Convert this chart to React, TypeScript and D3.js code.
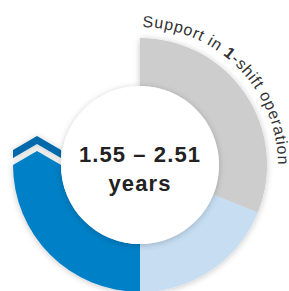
import React from "react";
import * as d3 from "d3";

// ring segments, clockwise from 12 o'clock (read as degrees of the ring)
const segments = ["support", "range", "base"];
const spans = [112, 68, 90];
const colors = ["#cdcdcd", "#c6ddf2", "#0480c6"];
const centerLines = ["1.55 – 2.51", "years"];
const arcLabel = ["Support in ", "1", "-shift operation"];

const W = 289;
const H = 291;

const App = () => {
  const cx = 140;
  const cy = 165;
  const outer = 127;
  const inner = 79;
  const ring = outer - inner;

  // the whole ring covers 270 degrees, from top clockwise to the left
  const angle = d3
    .scaleLinear()
    .domain([0, d3.sum(spans)])
    .range([0, (3 * Math.PI) / 2]);

  const pie = d3
    .pie<number>()
    .sort(null)
    .value((d) => d)
    .startAngle(angle(0))
    .endAngle(angle(d3.sum(spans)));

  const arc = d3.arc<d3.PieArcDatum<number>>().innerRadius(inner).outerRadius(outer);
  const slices = pie(spans);

  // chevron on the end of the blue arc (pointing up)
  const rise = 14;
  const gap = 7;
  const thick = 8;
  const x0 = cx - outer;
  const x1 = cx - inner;
  const xm = (x0 + x1) / 2;
  const cap = [
    [x0, cy],
    [xm, cy - rise],
    [x1, cy],
  ];
  const chevron = [
    [x0, cy - gap],
    [xm, cy - gap - rise],
    [x1, cy - gap],
    [x1, cy - gap - thick],
    [xm, cy - gap - thick - rise],
    [x0, cy - gap - thick],
  ];
  const line = d3.line();

  // path for curved label
  const r = 138;
  const a0 = (1 * Math.PI) / 180;
  const a1 = (100 * Math.PI) / 180;
  const p = d3.path();
  p.moveTo(cx + r * Math.sin(a0), cy - r * Math.cos(a0));
  p.arc(cx, cy, r, a0 - Math.PI / 2, a1 - Math.PI / 2);

  return (
    <svg
      width={W}
      height={H}
      style={{ position: "absolute", left: 0, top: 0, background: "#fff" }}
      fontFamily="'Liberation Sans', Arial, sans-serif"
    >
      <defs>
        <filter id="sh" x="-20%" y="-20%" width="140%" height="140%">
          <feDropShadow dx="0" dy="1" stdDeviation="3" floodColor="#000" floodOpacity="0.22" />
        </filter>
        <path id="lbl" d={p.toString()} />
      </defs>
      <g filter="url(#sh)">
        <g transform={`translate(${cx},${cy})`}>
          {slices.map((s, i) => (
            <path key={segments[i]} d={arc(s) || ""} fill={colors[i]} />
          ))}
        </g>
        <path d={line(cap as [number, number][]) + "Z"} fill={colors[2]} />
        <path d={line(chevron as [number, number][]) + "Z"} fill="#0069ab" />
      </g>
      <circle cx={cx} cy={cy} r={inner} fill="#fff" filter="url(#sh)" />
      <text
        textAnchor="middle"
        fontWeight="bold"
        fontSize={22}
        fill="#222"
        letterSpacing={1.1}
      >
        <tspan x={cx} y={162}>
          {centerLines[0]}
        </tspan>
        <tspan x={cx} y={191}>
          {centerLines[1]}
        </tspan>
      </text>
      <text fontSize={16} fill="#333" letterSpacing={0.8}>
        <textPath href="#lbl" startOffset={0}>
          {arcLabel[0]}
          <tspan fontWeight="bold">{arcLabel[1]}</tspan>
          {arcLabel[2]}
        </textPath>
      </text>
    </svg>
  );
};

export default App;
